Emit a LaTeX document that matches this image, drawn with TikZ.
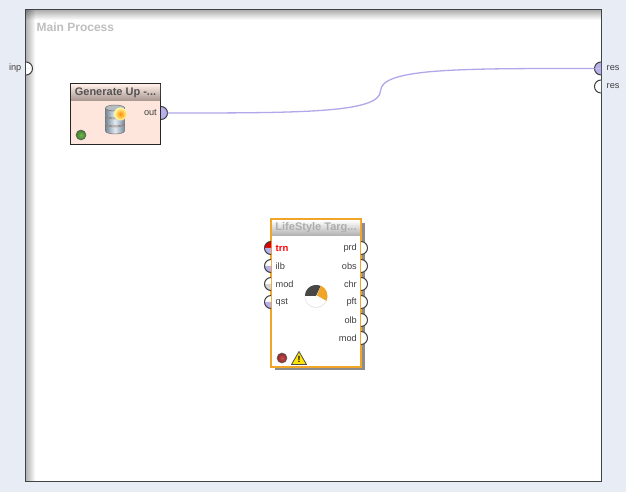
\documentclass[tikz,border=0pt]{standalone}
\usepackage{fontspec}
\setmainfont{Liberation Sans}
\usepackage[dvipsnames]{xcolor}
\usetikzlibrary{positioning,shadows,fadings}

\definecolor{panebg}{HTML}{E8ECF5}
\definecolor{framedark}{HTML}{404348}
\definecolor{wirelilac}{HTML}{B0A8EA}
\definecolor{portlilac}{HTML}{B8B0EC}
\definecolor{portgray}{HTML}{D4D4D4}
\definecolor{opbody}{HTML}{FFE6DC}
\definecolor{opborder}{HTML}{F0A428}
\definecolor{steeldark}{HTML}{76889A}
\definecolor{steellight}{HTML}{E4ECF2}
\definecolor{ledgreen}{HTML}{74B850}
\definecolor{ledgreendark}{HTML}{3C7A28}
\definecolor{ledred}{HTML}{C85050}
\definecolor{ledreddark}{HTML}{8A2424}

% half round port: name, position, side (1 or -1), upper fill, lower fill
\newcommand{\portarc}[5]{
    \begin{scope}[shift={(#2)},xscale=#3]
        \coordinate (#1) at (6.5,0);
        \fill[#4] (0,6.5) arc (90:0:6.5) -- (0,0) -- cycle;
        \fill[#5] (0,-6.5) arc (-90:0:6.5) -- (0,0) -- cycle;
        \draw[portline] (0,6.5) arc (90:-90:6.5);
    \end{scope}
}

\begin{document}
\begin{tikzpicture}[x=1pt,y=1pt,>=stealth,
    portline/.style={draw=black!75,line width=1pt},
    portlabel/.style={font=\fontsize{9.2}{10}\selectfont,text=black!75,inner sep=0pt},
    opbox/.style={rectangle,minimum width=90pt,inner sep=0pt},
    optitle/.style={rectangle,minimum width=89pt,minimum height=16pt,inner sep=0pt,anchor=north,font=\bfseries\fontsize{11}{12}\selectfont},
    wire/.style={draw=wirelilac,line width=1.3pt},
    led/.style={circle,minimum size=10pt,inner sep=0pt,draw=black!60,line width=0.6pt}]

    \useasboundingbox (0,0) rectangle (626,492);
    \fill[panebg] (0,0) rectangle (626,492);

    % process frame
    \node[rectangle,fill=white,minimum width=576pt,minimum height=471.5pt,inner sep=0pt] (frame) at (313.5,246.25) {};
    \fill[black,opacity=0.32,path fading=east] (frame.north west) rectangle ([xshift=10pt]frame.south west);
    \fill[black,opacity=0.32,path fading=south] (frame.north west) rectangle ([yshift=-10pt]frame.north east);
    \draw[framedark,line width=1.3pt] (frame.north west) rectangle (frame.south east);
    \node[anchor=west,font=\bfseries\fontsize{12}{13}\selectfont,text=black!25,inner sep=0pt] (maintitle) at (36.5,465) {Main Process};

    % generate operator
    \node[opbox,minimum height=60pt,fill=opbody,draw=black!85,line width=1pt] (gen) at (115.5,377.5) {};
    \node[optitle,top color=opbody!70!white,bottom color=black!35!opbody,text=black!68] (gentitle) at ([yshift=-0.5pt]gen.north) {Generate Up -...};
    \draw[black!85,line width=1pt] (gen.north west) -- (gen.north east);
    \node[led,inner color=ledgreen,outer color=ledgreendark] (genled) at (81,357) {};

    % database icon
    \coordinate (dbicon) at (115,373);
    \begin{scope}[shift={(dbicon)}]
        \foreach \lev in {-12,-4,4}{
            \path[left color=steeldark,right color=steeldark,middle color=steellight,draw=black!55,line width=0.5pt]
                (-9.5,\lev) -- (-9.5,\lev+7) arc (180:360:9.5 and 3) -- (9.5,\lev) arc (0:-180:9.5 and 3) -- cycle;
        }
        \path[fill=steellight!80!black,draw=black!55,line width=0.5pt] (0,11) ellipse (9.5 and 3);
        \shade[inner color=orange!90!yellow,outer color=yellow!35] (5.5,5) circle (6.5);
    \end{scope}

    % lifestyle operator
    \node[opbox,minimum height=147pt,fill=white,draw=opborder,line width=2pt,drop shadow={shadow xshift=3.5pt,shadow yshift=-3.5pt,fill=black!45,opacity=1}] (life) at (316,198.5) {};
    \node[optitle,minimum width=88pt,minimum height=15pt,top color=white,bottom color=black!30,text=black!32] (lifetitle) at ([yshift=-1pt]life.north) {LifeStyle Targ...};
    \draw[opborder,line width=2pt] (life.north west) -- (life.north east);
    \node[led,inner color=ledred,outer color=ledreddark] (lifeled) at (282,134) {};

    % pie icon
    \coordinate (pieicon) at (316,196);
    \begin{scope}[shift={(pieicon)}]
        \fill[black!10] (0,-0.5) circle (11.5);
        \fill[white] (0,0) circle (11);
        \fill[black!72] (0,0) -- (-11,0) arc (180:65:11) -- cycle;
        \fill[opborder] (1,0.5) -- (65:11.5) arc (65:-25:11.5) -- cycle;
    \end{scope}

    % warning sign
    \path[fill=yellow!85!orange,draw=black!70,line width=0.8pt,line join=round] (291.5,127.5) -- (306.5,127.5) -- (299,140.5) -- cycle;
    \node[font=\bfseries\fontsize{9}{9}\selectfont,inner sep=0pt] (warnmark) at (299,132.5) {!};

    % ports
    \portarc{inp}{26,423.5}{1}{white}{white}
    \portarc{genout}{161,379}{1}{portlilac}{portlilac}
    \portarc{resa}{601,423.5}{-1}{portlilac}{portlilac}
    \portarc{resb}{601,405.5}{-1}{white}{white}
    \portarc{trn}{271,244}{-1}{red!85!black}{portlilac}
    \portarc{ilb}{271,226}{-1}{white}{portlilac}
    \portarc{modin}{271,208}{-1}{white}{portgray}
    \portarc{qst}{271,190}{-1}{white}{portlilac}
    \portarc{prd}{361,244}{1}{white}{white}
    \portarc{obs}{361,226}{1}{white}{white}
    \portarc{chr}{361,208}{1}{white}{white}
    \portarc{pft}{361,190}{1}{white}{white}
    \portarc{olb}{361,172}{1}{white}{white}
    \portarc{modout}{361,154}{1}{white}{white}

    % port labels
    \node[portlabel,left=11pt of inp] (inplabel) {inp};
    \node[portlabel,right=12pt of resa] (resalabel) {res};
    \node[portlabel,right=12pt of resb] (resblabel) {res};
    \node[portlabel,left=10.5pt of genout] (outlabel) {out};
    \node[portlabel,right=11pt of trn,text=red,font=\bfseries\fontsize{9.5}{10}\selectfont] (trnlabel) {trn};
    \node[portlabel,right=11pt of ilb] (ilblabel) {ilb};
    \node[portlabel,right=11pt of modin] (modinlabel) {mod};
    \node[portlabel,right=11pt of qst] (qstlabel) {qst};
    \node[portlabel,left=10.5pt of prd] (prdlabel) {prd};
    \node[portlabel,left=10.5pt of obs] (obslabel) {obs};
    \node[portlabel,left=10.5pt of chr] (chrlabel) {chr};
    \node[portlabel,left=10.5pt of pft] (pftlabel) {pft};
    \node[portlabel,left=10.5pt of olb] (olblabel) {olb};
    \node[portlabel,left=10.5pt of modout] (modoutlabel) {mod};

    % connector
    \coordinate (wirebend) at (380.5,401);
    \path[wire] (genout) .. controls (300,379) and (380,379) .. (wirebend)
        .. controls (381,424) and (460,423.5) .. (resa);
\end{tikzpicture}
\end{document}
